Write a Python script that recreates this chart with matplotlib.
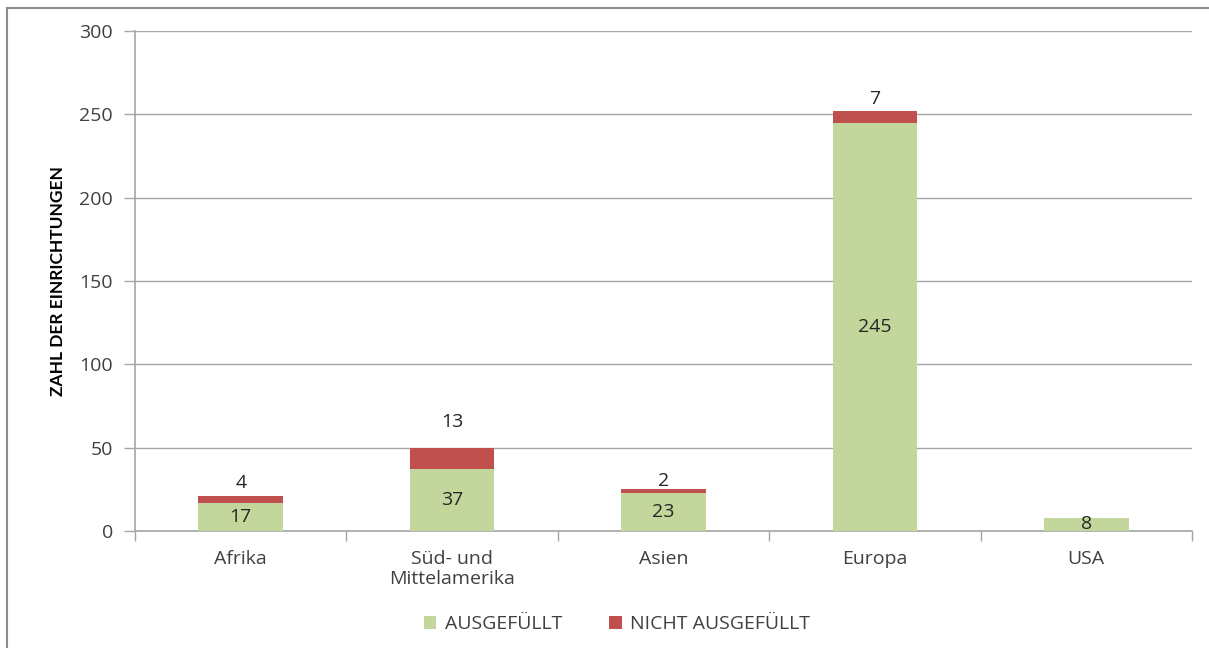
import matplotlib
matplotlib.use("Agg")
import matplotlib.pyplot as plt
from matplotlib.lines import Line2D
import numpy as np

GREEN = "#c3d69b"
RED   = "#c0504d"
TEXT  = "#404040"
GRID  = "#a6a6a6"

plt.rcParams.update({
    "font.family": ["Open Sans", "DejaVu Sans"],
    "text.color": TEXT,
    "xtick.color": TEXT,
    "ytick.color": TEXT,
})

# data
regions   = ["Afrika", "Süd- und\nMittelamerika", "Asien", "Europa", "USA"]
filled    = [17, 37, 23, 245, 8]
unfilled  = [4, 13, 2, 7, 0]
# label lift above the stacked top (as placed in the original)
top_lift  = [7.8, 15.4, 5.0, 7.0, 0]

W, H = 1209, 648
FS = 14
fig = plt.figure(figsize=(W / 100, H / 100), dpi=100)
ax = fig.add_axes([135 / W, 1 - 531 / H, (1192 - 135) / W, 500 / H])

x = np.arange(len(regions))
ax.bar(x, filled, 0.4, color=GREEN, zorder=3, label="AUSGEFÜLLT")
ax.bar(x, unfilled, 0.4, bottom=filled, color=RED, zorder=3, label="NICHT AUSGEFÜLLT")

for xi, f, u, lift in zip(x, filled, unfilled, top_lift):
    ax.text(xi, f / 2, str(f), ha="center", va="center", fontsize=FS, color="#262626", zorder=4)
    if u > 0:
        ax.text(xi, f + u + lift, str(u), ha="center", va="center", fontsize=FS, color="#262626", zorder=4)

ax.set_xlim(-0.5, len(regions) - 0.5)
ax.set_ylim(0, 300)
ax.set_yticks(range(0, 301, 50))
ax.tick_params(axis="y", length=8, width=1, color=GRID, labelsize=FS, pad=8)
ax.set_xticks(x)
ax.set_xticklabels(regions, fontsize=FS, linespacing=1.1)
ax.tick_params(axis="x", length=0, pad=14)
ax.set_xticks(np.arange(-0.5, len(regions), 1), minor=True)
ax.tick_params(axis="x", which="minor", length=7, width=1, color=GRID)
ax.grid(axis="y", color=GRID, linewidth=1, zorder=0)
for s in ["top", "right"]:
    ax.spines[s].set_visible(False)
ax.spines["left"].set_color(GRID)
ax.spines["bottom"].set_color(GRID)
ax.spines["left"].set_linewidth(1.2)
ax.spines["bottom"].set_linewidth(1.2)

ax.set_ylabel("ZAHL DER EINRICHTUNGEN", fontsize=12.5, fontweight="bold",
              color="black", family=["Lato", "DejaVu Sans"])
ax.yaxis.set_label_coords(-69 / (1192 - 135), 0.5)

fig.legend(loc="center", bbox_to_anchor=(617 / W, 1 - 624 / H), ncol=2,
           frameon=False, fontsize=FS, handlelength=0.65, handleheight=0.65,
           columnspacing=2.4, handletextpad=0.45)

# outer frame (top and left edges visible)
fig.add_artist(Line2D([7 / W, 7 / W], [0, 1 - 8 / H], color="#8c8c8c", lw=1.5))
fig.add_artist(Line2D([7 / W, 1], [1 - 8 / H, 1 - 8 / H], color="#8c8c8c", lw=1.5))

fig.savefig("out.png", dpi=100)
